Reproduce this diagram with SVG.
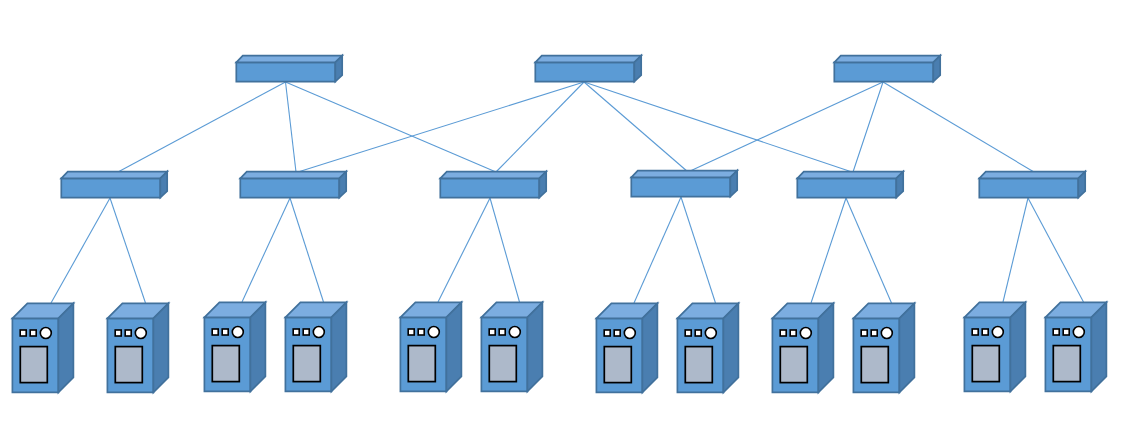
<svg xmlns="http://www.w3.org/2000/svg" width="1145" height="437" viewBox="0 0 1145 437">
<style>
.c line{stroke:#5b9bd5;stroke-width:1.1;fill:none}
.f{fill:#5b9bd5;stroke:#41719c;stroke-width:1.7;stroke-linejoin:miter}
.t{fill:#7cade0;stroke:#41719c;stroke-width:1.7}
.s{fill:#4a7eb0;stroke:#41719c;stroke-width:1.7}
.k{fill:#fff;stroke:#000;stroke-width:1.6}
.m{fill:#adb9ca;stroke:#000;stroke-width:1.7}
</style>
<defs>
<g id="server">
<path class="f" d="M.4 .4H46.400V74.400H.4Z"/>
<path class="t" d="M.4 .4L15.400-14.600H61.400L46.400 .4Z"/>
<path class="s" d="M46.400 .4L61.400-14.600V59.400L46.400 74.400Z"/>
<rect class="k" x="8.200" y="12" width="6" height="6"/>
<rect class="k" x="18.200" y="12" width="6" height="6"/>
<circle class="k" cx="33.800" cy="15" r="5.500"/>
<rect class="m" x="8.300" y="28.600" width="27" height="36"/>
</g>
<g id="switch">
<path class="f" d="M.3 .3H99.300V19.600H.3Z"/>
<path class="t" d="M.3 .3L6.800-6.400H106.200L99.300 .3Z"/>
<path class="s" d="M99.300 .3L106.200-6.400V13.200L99.300 19.600Z"/>
</g>
</defs>
<g id="connectors" class="c">
<line x1="285.500" y1="82" x2="118" y2="172"/>
<line x1="285.500" y1="82" x2="296" y2="172"/>
<line x1="285.500" y1="82" x2="496" y2="172"/>
<line x1="584" y1="82" x2="298" y2="172"/>
<line x1="584" y1="82" x2="496" y2="172"/>
<line x1="584" y1="82" x2="688" y2="172"/>
<line x1="584" y1="82" x2="852" y2="172"/>
<line x1="883" y1="82" x2="688" y2="172"/>
<line x1="883" y1="82" x2="853" y2="172"/>
<line x1="883" y1="82" x2="1034" y2="172"/>
<line x1="110" y1="198" x2="51" y2="303"/>
<line x1="110" y1="198" x2="145.500" y2="303"/>
<line x1="290" y1="198" x2="242" y2="302"/>
<line x1="290" y1="198" x2="323.500" y2="302"/>
<line x1="490" y1="198" x2="438" y2="302"/>
<line x1="490" y1="198" x2="519.500" y2="302"/>
<line x1="681" y1="197" x2="634" y2="303"/>
<line x1="681" y1="197" x2="715.500" y2="303"/>
<line x1="846" y1="198" x2="811" y2="303"/>
<line x1="846" y1="198" x2="891.500" y2="303"/>
<line x1="1028" y1="198" x2="1003" y2="302"/>
<line x1="1028" y1="198" x2="1083.500" y2="302"/>
</g>
<g id="core-1"><use href="#switch" x="236" y="62"/></g>
<g id="core-2"><use href="#switch" x="535" y="62"/></g>
<g id="core-3"><use href="#switch" x="834" y="62"/></g>
<g id="access-1"><use href="#switch" x="61" y="178"/></g>
<g id="access-2"><use href="#switch" x="240" y="178"/></g>
<g id="access-3"><use href="#switch" x="440" y="178"/></g>
<g id="access-4"><use href="#switch" x="631" y="177"/></g>
<g id="access-5"><use href="#switch" x="797" y="178"/></g>
<g id="access-6"><use href="#switch" x="979" y="178"/></g>
<g id="server-1"><use href="#server" x="12" y="318"/></g>
<g id="server-2"><use href="#server" x="107" y="318"/></g>
<g id="server-3"><use href="#server" x="204" y="317"/></g>
<g id="server-4"><use href="#server" x="285" y="317"/></g>
<g id="server-5"><use href="#server" x="400" y="317"/></g>
<g id="server-6"><use href="#server" x="481" y="317"/></g>
<g id="server-7"><use href="#server" x="596" y="318"/></g>
<g id="server-8"><use href="#server" x="677" y="318"/></g>
<g id="server-9"><use href="#server" x="772" y="318"/></g>
<g id="server-10"><use href="#server" x="853" y="318"/></g>
<g id="server-11"><use href="#server" x="964" y="317"/></g>
<g id="server-12"><use href="#server" x="1045" y="317"/></g>
</svg>
